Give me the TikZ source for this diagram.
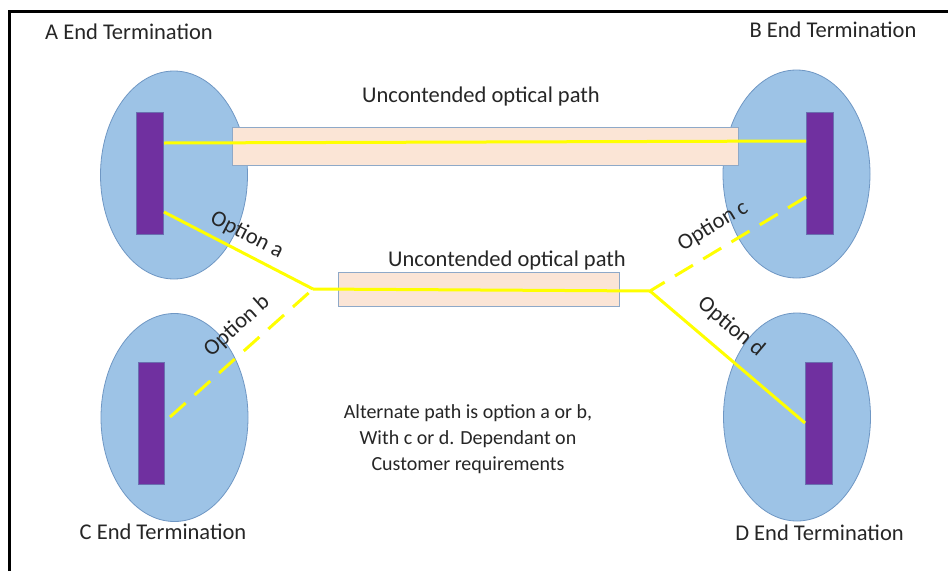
\documentclass[tikz,border=0pt]{standalone}
\usepackage{fontspec}
\setmainfont{Carlito}
\usetikzlibrary{shapes.geometric}
\definecolor{ellfill}{HTML}{9DC3E6}
\definecolor{elldraw}{HTML}{6F97C4}
\definecolor{portfill}{HTML}{7030A0}
\definecolor{portdraw}{HTML}{6A6FB0}
\definecolor{pipefill}{HTML}{FBE5D6}
\definecolor{pipedraw}{HTML}{8EA9C8}
\definecolor{fib}{HTML}{FFFF00}
\definecolor{txt}{HTML}{262626}
\begin{document}
\begin{tikzpicture}[x=1pt,y=-1pt,
  font=\fontsize{22.5}{26.5}\selectfont,
  site/.style={ellipse,draw=elldraw,line width=0.8pt,fill=ellfill,minimum width=147pt,minimum height=208pt,inner sep=0pt},
  port/.style={rectangle,draw=portdraw,line width=0.6pt,fill=portfill,minimum width=27pt,minimum height=122pt,inner sep=0pt},
  pipe/.style={rectangle,draw=pipedraw,line width=0.8pt,fill=pipefill,inner sep=0pt},
  fibre/.style={draw=fib,line width=3pt},
  dfibre/.style={draw=fib,line width=3pt,dash pattern=on 21pt off 12pt},
  lbl/.style={text=txt,inner sep=0pt,anchor=center}]
\useasboundingbox (0,0) rectangle (948,571);
\fill[white] (0,0) rectangle (948,571);
\draw[line width=3pt,black] (9.5,571) -- (9.5,11.5) -- (948,11.5);

% sites
\node[site] (EA) at (174,175) {};
\node[site] (EB) at (796.5,174) {};
\node[site] (EC) at (174.5,417.5) {};
\node[site] (ED) at (797,417) {};

% pipes
\node[pipe,minimum width=506pt,minimum height=38pt] (P1) at (485,146) {};
\node[pipe,minimum width=281pt,minimum height=34pt] (P2) at (478.5,289) {};

% ports
\node[port] (PA) at (150,173) {};
\node[port] (PB) at (819.5,173) {};
\node[port,minimum width=26pt] (PC) at (151,423.5) {};
\node[port] (PD) at (818.5,423.5) {};

% connection points
\coordinate (A1) at (164,143);
\coordinate (B1) at (806,141);
\coordinate (A2) at (164,212);
\coordinate (C1) at (170,417);
\coordinate (B2) at (806,197);
\coordinate (D1) at (805,423);
\coordinate (J1) at (313,289);
\coordinate (J2) at (650,291);

% fibres
\draw[fibre] (A1) -- (B1);
\draw[fibre] (A2) -- (J1);
\draw[fibre] (J1) -- (J2);
\draw[dfibre] (C1) -- (J1);
\draw[dfibre] (B2) -- (J2);
\draw[fibre] (J2) -- (D1);

% labels
\node[lbl] (tA) at (129,32) {A End Termination};
\node[lbl] (tB) at (833,30) {B End Termination};
\node[lbl] (tC) at (163,532) {C End Termination};
\node[lbl] (tD) at (819.5,533) {D End Termination};
\node[lbl] (u1) at (481,96) {Uncontended optical path};
\node[lbl] (u2) at (507,260) {Uncontended optical path};
\node[lbl,rotate=-27] (oa) at (247,235) {Option a};
\node[lbl,rotate=42] (ob) at (237,326) {Option b};
\node[lbl,rotate=31] (oc) at (713,226) {Option c};
\node[lbl,rotate=-40] (od) at (731,327) {Option d};
\node[lbl,align=center,font=\fontsize{20}{26}\selectfont] (note) at (468,439) {Alternate path is option a or b,\\With c or d. Dependant on\\Customer requirements};
\end{tikzpicture}
\end{document}
